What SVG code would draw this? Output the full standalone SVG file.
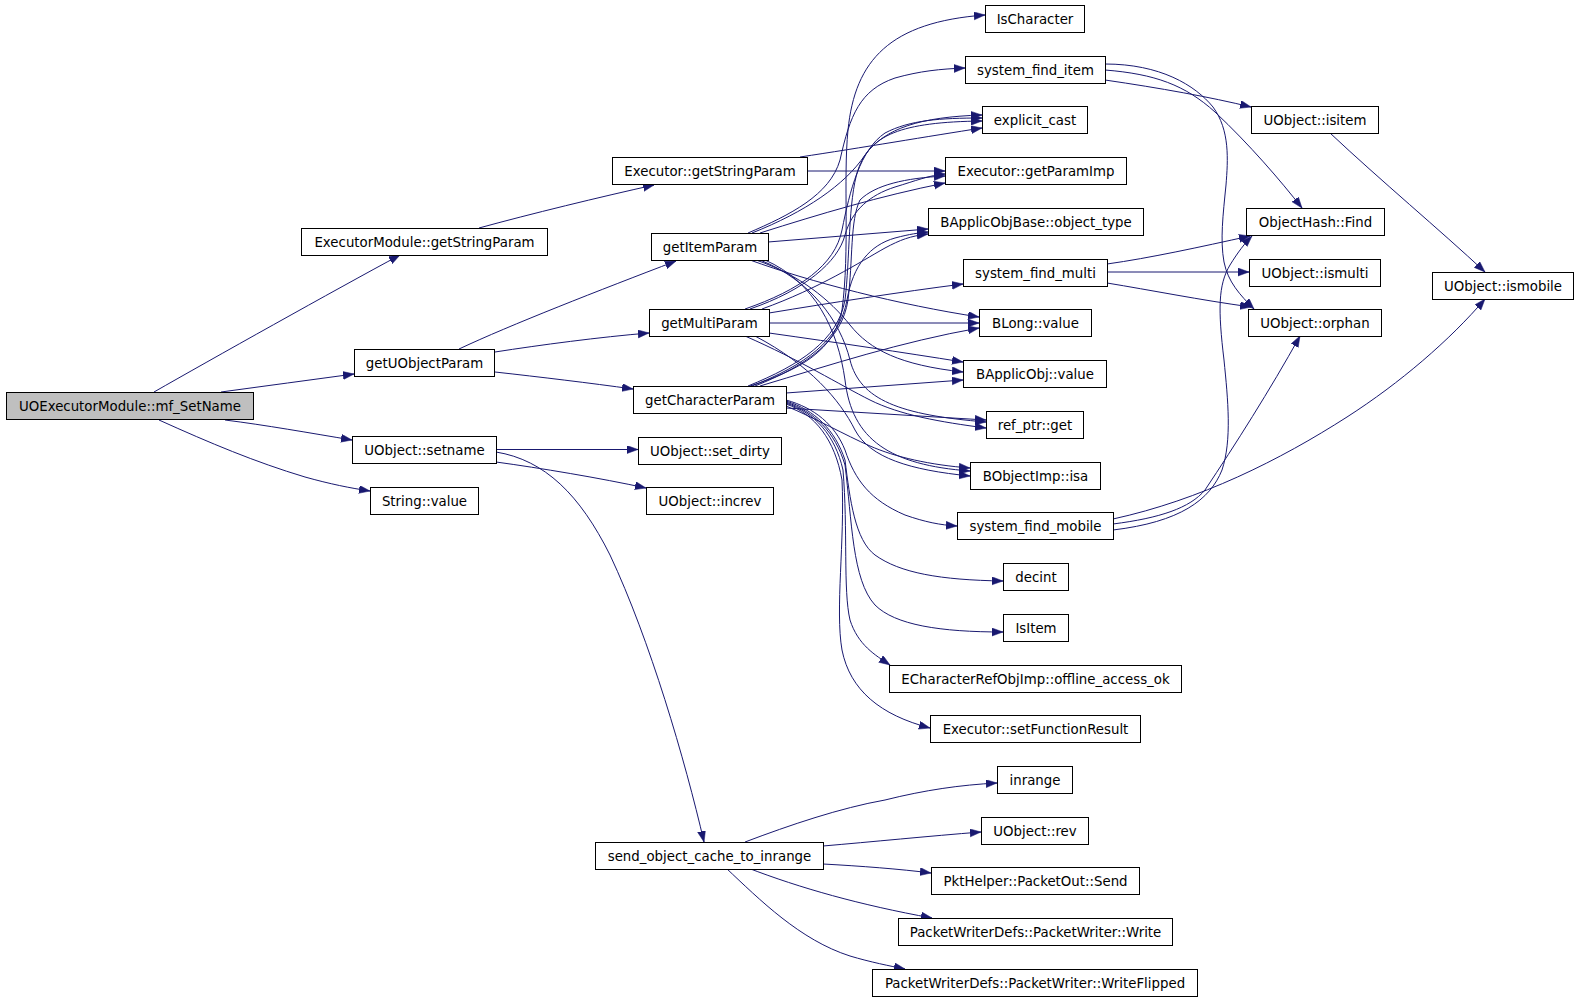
<svg xmlns="http://www.w3.org/2000/svg" width="1579" height="1000" viewBox="0 0 1579 1000">
<style>
.node rect{fill:#ffffff;stroke:#000000;stroke-width:1}
.node.root rect{fill:#bfbfbf}
.node text{font-family:"DejaVu Sans","Liberation Sans",sans-serif;font-size:13.33px;fill:#000000;text-anchor:middle}
.e{fill:none;stroke:#191970;stroke-width:1;marker-end:url(#ah)}
</style>
<defs>
<marker id="ah" markerUnits="userSpaceOnUse" markerWidth="12" markerHeight="9" refX="11" refY="4" orient="auto">
<path d="M0,0 L11,4 L0,8 z" fill="#191970" stroke="#191970" stroke-width="0.5"/>
</marker>
</defs>
<rect width="1579" height="1000" fill="#ffffff"/>
<g id="edges">
<path class="e" d="M154,392 C210,360 335,290 400,255"/>
<path class="e" d="M221,392 C265,386 310,380 354,374"/>
<path class="e" d="M225,420 C265,425 310,433 352,440"/>
<path class="e" d="M159,420 C210,443 255,462 305,477 C330,484 350,488 370,491"/>
<path class="e" d="M479,228 C530,214 600,197 654,185"/>
<path class="e" d="M459,349 C510,325 600,290 676,261"/>
<path class="e" d="M495,352 C540,345 600,337 649,333"/>
<path class="e" d="M495,372 C540,377 590,383 633,389"/>
<path class="e" d="M496,449.5 L638,449.5"/>
<path class="e" d="M496,462 C540,468 600,478 646,488"/>
<path class="e" d="M496,452 C545,460 580,495 610,555 C650,640 685,760 704,842"/>
<path class="e" d="M800,157 C860,148 930,136 982,128"/>
<path class="e" d="M807,171 L945,171"/>
<path class="e" d="M748,233 C790,215 830,195 840,160 C850,115 860,90 895,78 C920,71 940,69 965,68"/>
<path class="e" d="M752,233 C805,212 845,185 865,155 C885,128 920,117 982,115"/>
<path class="e" d="M760,233 C820,214 880,196 945,183"/>
<path class="e" d="M768,242 L928,229"/>
<path class="e" d="M750,260 C810,282 900,305 979,317"/>
<path class="e" d="M756,260 C800,275 830,300 850,325 C870,350 900,365 963,372"/>
<path class="e" d="M760,260 C810,280 840,320 850,360 C860,400 900,415 986,422"/>
<path class="e" d="M765,260 C815,282 838,330 845,380 C852,440 890,465 970,471"/>
<path class="e" d="M769,313 C830,303 900,292 963,284"/>
<path class="e" d="M769,323 L979,323"/>
<path class="e" d="M769,333 C840,343 900,352 963,362"/>
<path class="e" d="M745,336 C800,360 840,385 870,400 C900,415 940,422 986,428"/>
<path class="e" d="M755,336 C810,365 840,400 855,430 C870,458 910,470 970,476"/>
<path class="e" d="M745,309 C800,290 835,265 842,230 C850,190 860,150 885,133 C910,120 940,118 982,118"/>
<path class="e" d="M750,309 C805,290 838,262 845,235 C852,210 870,195 895,187 C915,181 930,175 945,174"/>
<path class="e" d="M762,309 C820,288 860,262 885,248 C900,240 910,236 928,234"/>
<path class="e" d="M750,386 C800,370 835,350 842,310 C850,250 843,180 848,130 C855,60 890,22 985,15"/>
<path class="e" d="M748,386 C800,365 838,340 845,300 C850,260 848,200 858,170 C870,135 900,122 982,121"/>
<path class="e" d="M755,386 C808,365 842,340 848,300 C853,260 850,220 860,200 C875,185 905,178 945,176"/>
<path class="e" d="M752,386 C805,365 840,340 847,300 C853,265 870,245 895,238 C910,234 918,233 928,232"/>
<path class="e" d="M760,386 C830,365 900,342 979,328"/>
<path class="e" d="M786,393 L963,380"/>
<path class="e" d="M786,408 L986,420"/>
<path class="e" d="M786,406 C815,418 845,435 870,446 C895,457 930,465 970,468"/>
<path class="e" d="M786,400 C815,408 835,425 845,450 C855,480 870,500 905,515 C925,522 940,525 957,526"/>
<path class="e" d="M786,401 C815,410 835,430 845,460 C850,500 855,540 875,555 C900,573 940,580 1003,581"/>
<path class="e" d="M786,402 C815,412 835,432 845,465 C852,520 852,580 875,605 C895,625 940,632 1003,632"/>
<path class="e" d="M786,403 C815,413 835,435 843,470 C848,530 843,590 850,620 C858,645 875,655 890,665"/>
<path class="e" d="M786,404 C815,414 835,440 842,480 C845,540 835,610 842,650 C850,690 880,715 930,728"/>
<path class="e" d="M1105,80 C1160,88 1210,97 1251,107"/>
<path class="e" d="M1105,70 C1155,74 1185,85 1215,112 C1250,145 1280,180 1302,208"/>
<path class="e" d="M1105,64 C1160,64 1195,85 1213,107 C1230,130 1228,160 1226,185 C1223,215 1220,240 1224,262 C1228,282 1240,295 1254,309"/>
<path class="e" d="M1107,264 C1150,258 1200,247 1250,236"/>
<path class="e" d="M1107,272 L1249,272"/>
<path class="e" d="M1107,283 C1150,290 1200,300 1251,307"/>
<path class="e" d="M1113,519 C1200,500 1280,460 1347,417 C1400,383 1450,340 1485,299"/>
<path class="e" d="M1113,524 C1160,518 1190,508 1205,490 C1235,445 1270,390 1300,336"/>
<path class="e" d="M1113,530 C1180,522 1210,500 1222,470 C1232,440 1228,400 1224,360 C1218,310 1218,285 1230,265 C1238,252 1245,243 1252,236"/>
<path class="e" d="M1330,133 C1380,180 1440,230 1485,272"/>
<path class="e" d="M745,842 C790,825 840,808 885,800 C925,790 960,785 997,783"/>
<path class="e" d="M823,846 C870,842 930,836 981,832"/>
<path class="e" d="M823,864 C860,866 900,869 931,873"/>
<path class="e" d="M748,868 C800,888 860,905 932,918"/>
<path class="e" d="M726,868 C760,900 800,940 850,956 C870,962 890,966 905,969"/>
</g>
<g id="n0" class="node root"><rect x="6.5" y="392.5" width="247" height="27"/><text x="130" y="410.5">UOExecutorModule::mf_SetName</text></g>
<g id="n1" class="node"><rect x="301.5" y="228.5" width="246" height="27"/><text x="424.5" y="246.5">ExecutorModule::getStringParam</text></g>
<g id="n2" class="node"><rect x="354.5" y="349.5" width="140" height="27"/><text x="424.5" y="367.5">getUObjectParam</text></g>
<g id="n3" class="node"><rect x="352.5" y="436.5" width="144" height="27"/><text x="424.5" y="454.5">UObject::setname</text></g>
<g id="n4" class="node"><rect x="370.5" y="487.5" width="108" height="27"/><text x="424.5" y="505.5">String::value</text></g>
<g id="n5" class="node"><rect x="612.5" y="157.5" width="195" height="27"/><text x="710" y="175.5">Executor::getStringParam</text></g>
<g id="n6" class="node"><rect x="651.5" y="233.5" width="117" height="27"/><text x="710" y="251.5">getItemParam</text></g>
<g id="n7" class="node"><rect x="649.5" y="309.5" width="120" height="27"/><text x="709.5" y="327.5">getMultiParam</text></g>
<g id="n8" class="node"><rect x="633.5" y="386.5" width="153" height="27"/><text x="710" y="404.5">getCharacterParam</text></g>
<g id="n9" class="node"><rect x="638.5" y="437.5" width="143" height="27"/><text x="710" y="455.5">UObject::set_dirty</text></g>
<g id="n10" class="node"><rect x="646.5" y="487.5" width="127" height="27"/><text x="710" y="505.5">UObject::increv</text></g>
<g id="n11" class="node"><rect x="595.5" y="842.5" width="228" height="27"/><text x="709.5" y="860.5">send_object_cache_to_inrange</text></g>
<g id="n12" class="node"><rect x="985.5" y="5.5" width="99" height="27"/><text x="1035" y="23.5">IsCharacter</text></g>
<g id="n13" class="node"><rect x="965.5" y="56.5" width="140" height="27"/><text x="1035.5" y="74.5">system_find_item</text></g>
<g id="n14" class="node"><rect x="982.5" y="106.5" width="105" height="27"/><text x="1035" y="124.5">explicit_cast</text></g>
<g id="n15" class="node"><rect x="945.5" y="157.5" width="181" height="27"/><text x="1036" y="175.5">Executor::getParamImp</text></g>
<g id="n16" class="node"><rect x="928.5" y="208.5" width="215" height="27"/><text x="1036" y="226.5">BApplicObjBase::object_type</text></g>
<g id="n17" class="node"><rect x="963.5" y="259.5" width="144" height="27"/><text x="1035.5" y="277.5">system_find_multi</text></g>
<g id="n18" class="node"><rect x="979.5" y="309.5" width="112" height="27"/><text x="1035.5" y="327.5">BLong::value</text></g>
<g id="n19" class="node"><rect x="963.5" y="360.5" width="143" height="27"/><text x="1035" y="378.5">BApplicObj::value</text></g>
<g id="n20" class="node"><rect x="986.5" y="411.5" width="97" height="27"/><text x="1035" y="429.5">ref_ptr::get</text></g>
<g id="n21" class="node"><rect x="970.5" y="462.5" width="130" height="27"/><text x="1035.5" y="480.5">BObjectImp::isa</text></g>
<g id="n22" class="node"><rect x="957.5" y="512.5" width="156" height="27"/><text x="1035.5" y="530.5">system_find_mobile</text></g>
<g id="n23" class="node"><rect x="1003.5" y="563.5" width="65" height="27"/><text x="1036" y="581.5">decint</text></g>
<g id="n24" class="node"><rect x="1003.5" y="614.5" width="65" height="27"/><text x="1036" y="632.5">IsItem</text></g>
<g id="n25" class="node"><rect x="889.5" y="665.5" width="292" height="27"/><text x="1035.5" y="683.5">ECharacterRefObjImp::offline_access_ok</text></g>
<g id="n26" class="node"><rect x="930.5" y="715.5" width="210" height="27"/><text x="1035.5" y="733.5">Executor::setFunctionResult</text></g>
<g id="n27" class="node"><rect x="997.5" y="766.5" width="75" height="27"/><text x="1035" y="784.5">inrange</text></g>
<g id="n28" class="node"><rect x="981.5" y="817.5" width="107" height="27"/><text x="1035" y="835.5">UObject::rev</text></g>
<g id="n29" class="node"><rect x="931.5" y="867.5" width="208" height="27"/><text x="1035.5" y="885.5">PktHelper::PacketOut::Send</text></g>
<g id="n30" class="node"><rect x="898.5" y="918.5" width="274" height="27"/><text x="1035.5" y="936.5">PacketWriterDefs::PacketWriter::Write</text></g>
<g id="n31" class="node"><rect x="872.5" y="969.5" width="325" height="27"/><text x="1035" y="987.5">PacketWriterDefs::PacketWriter::WriteFlipped</text></g>
<g id="n32" class="node"><rect x="1251.5" y="106.5" width="127" height="27"/><text x="1315" y="124.5">UObject::isitem</text></g>
<g id="n33" class="node"><rect x="1246.5" y="208.5" width="138" height="27"/><text x="1315.5" y="226.5">ObjectHash::Find</text></g>
<g id="n34" class="node"><rect x="1249.5" y="259.5" width="131" height="27"/><text x="1315" y="277.5">UObject::ismulti</text></g>
<g id="n35" class="node"><rect x="1248.5" y="309.5" width="133" height="27"/><text x="1315" y="327.5">UObject::orphan</text></g>
<g id="n36" class="node"><rect x="1432.5" y="272.5" width="141" height="27"/><text x="1503" y="290.5">UObject::ismobile</text></g>
</svg>
